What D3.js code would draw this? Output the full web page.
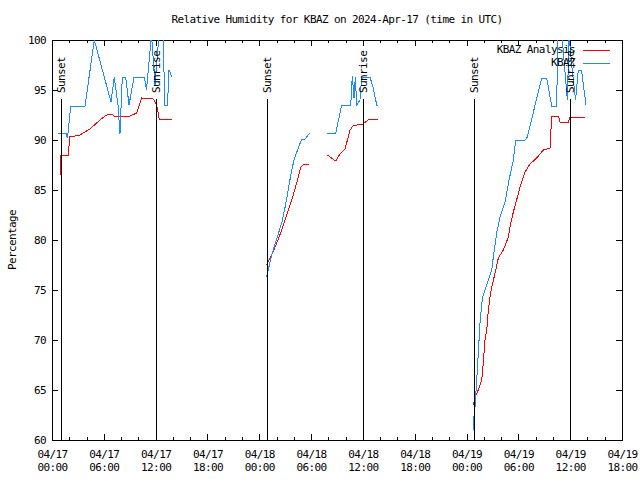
<!DOCTYPE html>
<html><head><meta charset="utf-8">
<script src="https://cdn.jsdelivr.net/npm/d3@7"></script>
<style>
body{margin:0;background:#fff}
svg{display:block}
text{font-family:"DejaVu Sans Mono","Liberation Mono",monospace;font-size:11px;letter-spacing:-0.6px;fill:#000}
</style>
</head><body><svg id="c" width="640" height="480"></svg>
<script>
// ---------- data ----------
const chartTitle = "Relative Humidity for KBAZ on 2024-Apr-17 (time in UTC)";
const yAxisLabel = "Percentage";
const seriesNames = ["KBAZ Analysis", "KBAZ"];
const seriesColors = ["#ff0000", "#1a8cff"];
const startTime = Date.UTC(2024, 3, 17, 0);
const endTime = Date.UTC(2024, 3, 19, 18);
const yTickValues = [60, 65, 70, 75, 80, 85, 90, 95, 100];
const yDomain = [60, 100];

// hours since 04/17 00:00 UTC (null = gap)
const analysisHours = [
  0.93, 0.98, 1.91, 2.03, 3.24, 4.40, 5.56, 6.33, 6.91, 7.18, 7.87, 9.03, 9.81, 10.39, 11.73, 12.12, 12.42, 13.86,
  null,
  24.86, 25.44, 26.02, 26.60, 27.18, 27.76, 28.33, 28.80, 29.10, 29.79,
  null,
  31.88, 32.85, 33.35, 33.93, 34.51, 34.85, 35.32, 36.01, 36.59, 36.82, 37.78,
  null,
  48.78, 48.98, 49.36, 49.76, 49.94, 50.14, 50.34, 50.52, 50.72, 50.92, 51.30, 51.68, 52.26, 52.84, 53.03, 53.42, 53.80,
  54.19, 54.77, 55.35, 56.12, 56.89, 57.67, 57.86, 58.63, 58.82, 59.78, 59.98, 61.72
];
const analysisValues = [
  86.5, 88.5, 88.5, 90.3, 90.5, 91.1, 92.0, 92.5, 92.6, 92.4, 92.4, 92.4, 92.7, 94.2, 94.1, 93.5, 92.1, 92.1,
  null,
  77.5, 78.5, 79.7, 81.0, 82.5, 84.0, 85.7, 87.3, 87.5, 87.6,
  null,
  88.5, 87.9, 88.6, 89.1, 91.0, 91.4, 91.5, 91.6, 92.0, 92.1, 92.1,
  null,
  63.5, 64.3, 65.0, 66.0, 67.7, 70.0, 71.0, 73.0, 74.3, 75.3, 76.7, 78.2, 79.0, 80.3, 81.3, 82.8, 84.0,
  85.3, 86.8, 87.6, 88.2, 89.0, 89.2, 92.4, 92.4, 91.8, 91.8, 92.3, 92.2
];

const kbazHours = [
  0.64, 1.62, 1.79, 2.17, 3.82, 4.90, 6.83, 7.21, 7.64, 7.87, 8.14, 8.53, 8.92, 9.50, 10.69, 10.94, 11.52, 11.93,
  12.39, 12.85, 13.08, 13.37, 13.55, 13.90,
  null,
  24.84, 25.44, 26.05, 26.63, 27.04, 27.39, 27.67, 28.02, 28.43, 28.91, 29.30, 29.82,
  null,
  31.81, 32.85, 33.55, 34.59, 34.77, 34.97, 35.12, 35.28, 35.66, 35.86, 36.82, 37.20, 37.60, 37.78,
  null,
  48.78, 48.81, 48.98, 49.18, 49.36, 49.56, 49.83, 50.14, 50.52, 50.92, 51.10, 51.49, 51.88, 52.46, 52.92, 53.42, 53.69,
  54.77, 55.04, 56.70, 57.28, 57.86, 58.44, 58.56, 59.05, 59.67, 59.87, 60.18, 60.62, 60.94, 61.31, 61.83
];
const kbazValues = [
  90.7, 90.7, 90.2, 93.4, 93.4, 100.0, 93.8, 96.3, 93.5, 90.6, 96.3, 96.3, 93.5, 96.3, 96.3, 95.0, 100.5, 95.5,
  100.5, 100.5, 93.5, 93.5, 97.0, 96.3,
  null,
  76.3, 78.5, 80.2, 81.8, 83.5, 85.2, 86.6, 88.0, 89.0, 90.1, 90.1, 90.7,
  null,
  90.7, 90.7, 93.5, 93.5, 96.4, 94.2, 96.3, 93.5, 94.0, 96.3, 96.3, 95.2, 93.5, 93.5,
  null,
  61.0, 62.0, 63.3, 66.0, 68.7, 71.7, 74.2, 75.0, 76.0, 77.0, 78.3, 80.7, 82.3, 83.8, 86.0, 88.0, 90.0,
  90.0, 90.3, 96.2, 96.2, 93.4, 93.4, 100.5, 100.5, 94.0, 100.5, 97.5, 94.0, 97.0, 97.0, 93.5
];

const sunLabels = ["Sunset", "Sunrise", "Sunset", "Sunrise", "Sunset", "Sunrise"];
const sunHours = [1.0, 12.02, 24.9, 36.0, 48.88, 59.98];

// ---------- drawing ----------
const W = 640, H = 480;
const M = {left: 52, right: 18, top: 40, bottom: 40};
const svg = d3.select("#c").attr("shape-rendering", "crispEdges");
const toDate = h => new Date(startTime + h * 3600e3);

const x = d3.scaleUtc().domain([new Date(startTime), new Date(endTime)]).range([M.left, W - M.right]);
const y = d3.scaleLinear().domain(yDomain).range([H - M.bottom, M.top]);

const majorTicks = d3.utcHour.every(6).range(new Date(startTime), new Date(endTime + 1));
const minorTicks = d3.utcHour.every(2).range(new Date(startTime), new Date(endTime + 1))
  .filter(d => d.getUTCHours() % 6 !== 0);

// clip
svg.append("defs").append("clipPath").attr("id", "plotclip")
  .append("rect").attr("x", M.left).attr("y", M.top)
  .attr("width", W - M.left - M.right).attr("height", H - M.top - M.bottom);

// bottom axis (ticks inward)
const gx = svg.append("g").attr("transform", `translate(0,${H - M.bottom})`)
  .call(d3.axisBottom(x).tickValues(majorTicks).tickSizeInner(-6).tickSizeOuter(0).tickPadding(0)
    .tickFormat(() => ""));
gx.select(".domain").remove();
gx.selectAll(".tick").each(function(d) {
  const t = d3.select(this).select("text").attr("y", 0).attr("dy", null);
  t.append("tspan").attr("x", 0).attr("y", 14).attr("dy", "0.35em").text(d3.utcFormat("%m/%d")(d));
  t.append("tspan").attr("x", 0).attr("y", 27).attr("dy", "0.35em").text(d3.utcFormat("%H:%M")(d));
});
const gxm = svg.append("g").attr("transform", `translate(0,${H - M.bottom})`)
  .call(d3.axisBottom(x).tickValues(minorTicks).tickSizeInner(-3).tickSizeOuter(0).tickFormat(""));
gxm.select(".domain").remove();

// top axis mirror
const gt = svg.append("g").attr("transform", `translate(0,${M.top})`)
  .call(d3.axisTop(x).tickValues(majorTicks).tickSizeInner(-6).tickSizeOuter(0).tickFormat(""));
gt.select(".domain").remove();
const gtm = svg.append("g").attr("transform", `translate(0,${M.top})`)
  .call(d3.axisTop(x).tickValues(minorTicks).tickSizeInner(-3).tickSizeOuter(0).tickFormat(""));
gtm.select(".domain").remove();

// left axis
const gy = svg.append("g").attr("transform", `translate(${M.left},0)`)
  .call(d3.axisLeft(y).tickValues(yTickValues).tickSizeInner(-6).tickSizeOuter(0).tickPadding(6));
gy.select(".domain").remove();
// right axis mirror
const gr = svg.append("g").attr("transform", `translate(${W - M.right},0)`)
  .call(d3.axisRight(y).tickValues(yTickValues).tickSizeInner(-6).tickSizeOuter(0).tickFormat(""));
gr.select(".domain").remove();

svg.selectAll(".tick line").attr("stroke", "#000");
svg.selectAll(".tick text").attr("font-family", null).attr("font-size", null).attr("fill", "#000");
svg.selectAll("g").attr("font-family", null).attr("font-size", null);

// border
svg.append("rect").attr("x", M.left + 0.5).attr("y", M.top + 0.5)
  .attr("width", W - M.left - M.right).attr("height", H - M.top - M.bottom)
  .attr("fill", "none").attr("stroke", "#000");

// data lines
const plot = svg.append("g").attr("clip-path", "url(#plotclip)");
function series(hours, values) {
  return hours.map((h, i) => ({h, v: values[i]}));
}
const line = d3.line()
  .defined(d => d.h !== null && d.v !== null)
  .x(d => x(toDate(d.h)))
  .y(d => y(d.v));
const allSeries = [series(analysisHours, analysisValues), series(kbazHours, kbazValues)];
allSeries.forEach((s, i) => {
  plot.append("path").datum(s).attr("d", line)
    .attr("fill", "none").attr("stroke", seriesColors[i]).attr("stroke-width", 1);
});

// sunrise/sunset markers
sunHours.forEach((h, i) => {
  const sx = Math.round(x(toDate(h))) + 0.5;
  svg.append("line").attr("x1", sx).attr("x2", sx).attr("y1", 99).attr("y2", H - M.bottom)
    .attr("stroke", "#000").attr("stroke-width", 1);
  svg.append("text").attr("transform", `translate(${sx},93) rotate(-90)`)
    .attr("dy", "0.35em").attr("text-anchor", "start").text(sunLabels[i]);
});

// title & y label
svg.append("text").attr("x", (M.left + W - M.right) / 2).attr("y", 19).attr("dy", "0.35em")
  .attr("text-anchor", "middle").text(chartTitle);
svg.append("text").attr("transform", `translate(12,${(M.top + H - M.bottom) / 2}) rotate(-90)`)
  .attr("dy", "0.35em").attr("text-anchor", "middle").text(yAxisLabel);

// legend
seriesNames.forEach((name, i) => {
  const ly = 49.5 + i * 13;
  svg.append("text").attr("x", 575).attr("y", ly).attr("dy", "0.35em")
    .attr("text-anchor", "end").text(name);
  svg.append("line").attr("x1", 583).attr("x2", 610).attr("y1", Math.round(ly) + 0.5).attr("y2", Math.round(ly) + 0.5)
    .attr("stroke", seriesColors[i]).attr("stroke-width", 1);
});
</script>
</body></html>
